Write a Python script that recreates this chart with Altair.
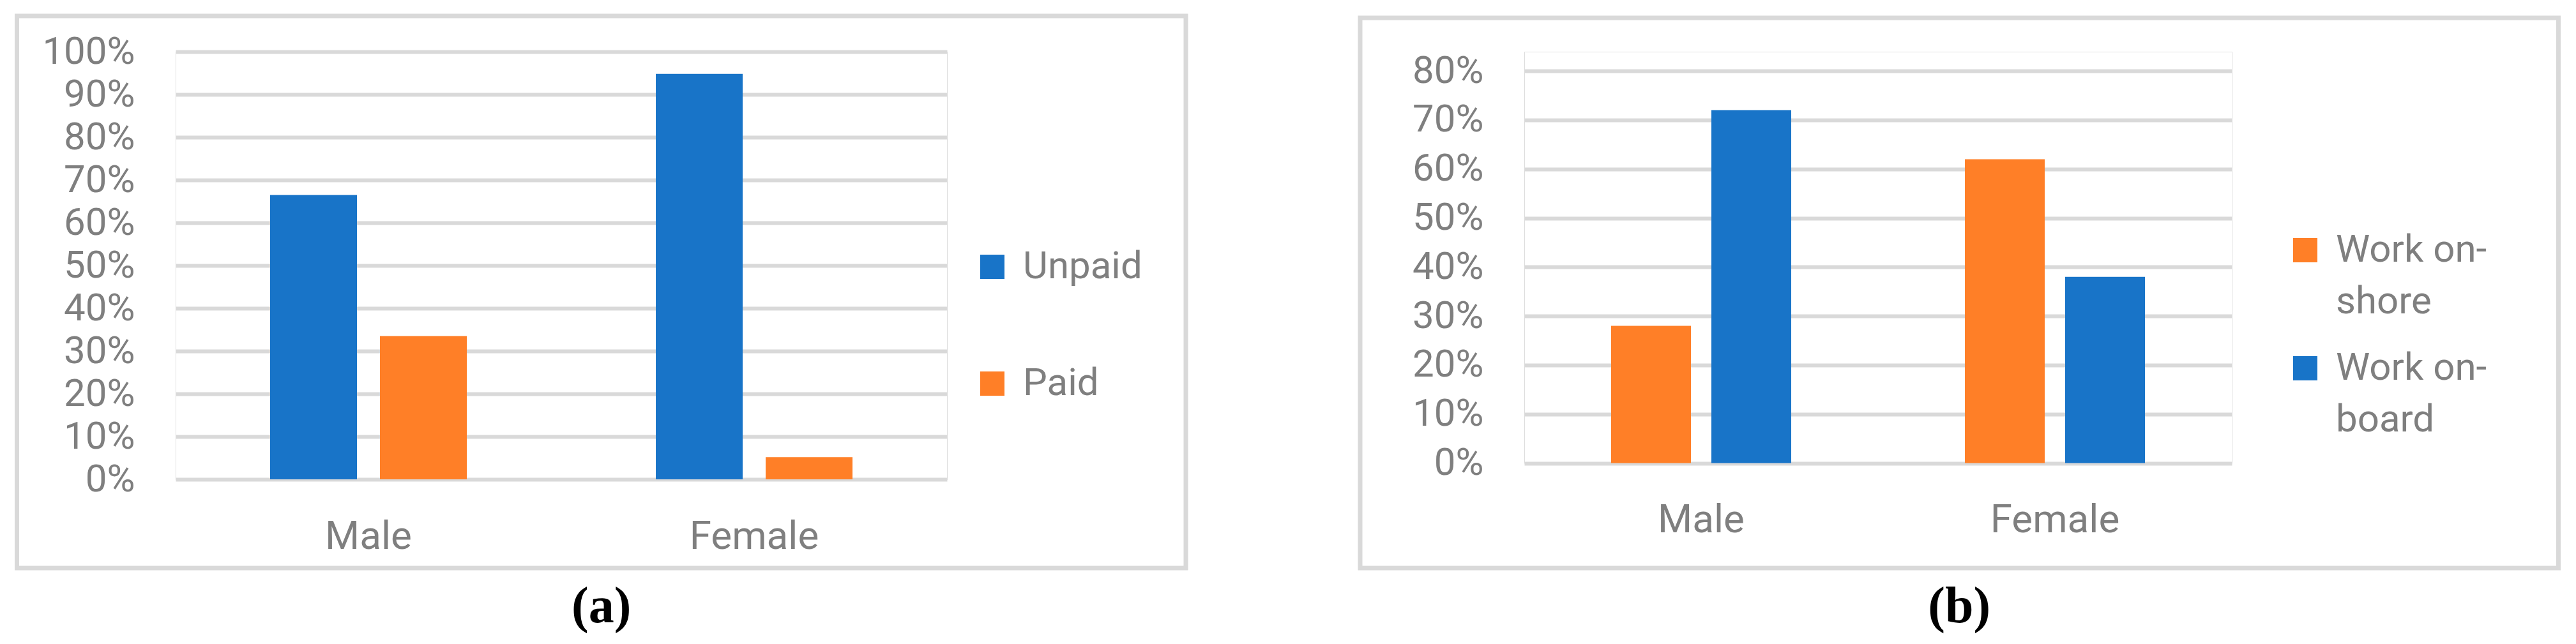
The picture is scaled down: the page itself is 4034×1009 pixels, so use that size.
import altair as alt
import pandas as pd

# ---------------- data ----------------
genders = ["Male", "Female"]

pay_series = ["Unpaid", "Paid"]
unpaid_share = [0.665, 0.948]
paid_share = [0.335, 0.052]

work_series = ["Work on-shore", "Work on-board"]
onshore_share = [0.28, 0.62]
onboard_share = [0.72, 0.38]

y_ticks_a = [0.0, 0.1, 0.2, 0.3, 0.4, 0.5, 0.6, 0.7, 0.8, 0.9, 1.0]
y_ticks_b = [0.0, 0.1, 0.2, 0.3, 0.4, 0.5, 0.6, 0.7, 0.8]

BLUE = "#1874C8"
ORANGE = "#FF7F27"
GRID = "#D9D9D9"
TXT = "#7F7F7F"
FONT = "Roboto"

df_a = pd.DataFrame(
    [{"gender": g, "series": pay_series[0], "value": v} for g, v in zip(genders, unpaid_share)]
    + [{"gender": g, "series": pay_series[1], "value": v} for g, v in zip(genders, paid_share)]
)
df_b = pd.DataFrame(
    [{"gender": g, "series": work_series[0], "value": v} for g, v in zip(genders, onshore_share)]
    + [{"gender": g, "series": work_series[1], "value": v} for g, v in zip(genders, onboard_share)]
)


def panel(df, series_order, colors, ymax, yticks, w, h, pin, pout,
          frame, leg_x, leg_y, row_pad, label_expr, title):
    bars = alt.Chart(df).mark_bar().encode(
        x=alt.X(
            "gender:N",
            sort=genders,
            scale=alt.Scale(paddingInner=0, paddingOuter=0),
            axis=alt.Axis(
                title=None, labelAngle=0, ticks=False, tickSize=0, domain=False,
                grid=False, labelFont=FONT, labelFontSize=62, labelColor=TXT,
                labelPadding=108, labelBaseline="alphabetic", labelLimit=1000,
            ),
        ),
        xOffset=alt.XOffset(
            "series:N", sort=series_order,
            scale=alt.Scale(paddingInner=pin, paddingOuter=pout),
        ),
        y=alt.Y(
            "value:Q",
            scale=alt.Scale(domain=[0, ymax], nice=False, zero=True),
            axis=alt.Axis(
                title=None, values=yticks, format=".0%", ticks=False, tickSize=0,
                domain=False, grid=True, gridColor=GRID, gridWidth=6,
                labelFont=FONT, labelFontSize=60, labelColor=TXT,
                labelPadding=64, labelOverlap=False, labelLimit=1000,
            ),
        ),
        color=alt.Color(
            "series:N",
            sort=series_order,
            scale=alt.Scale(domain=series_order, range=colors),
            legend=alt.Legend(
                title=None, orient="none", legendX=leg_x, legendY=leg_y,
                symbolType="square", symbolSize=1444, symbolStrokeWidth=0,
                labelFont=FONT, labelFontSize=60, labelColor=TXT,
                labelOffset=18, labelLimit=1000, rowPadding=row_pad, padding=0,
                labelExpr=label_expr,
            ),
        ),
    )
    fx1, fx2, fy1, fy2 = frame
    box = alt.Chart(alt.Data(values=[{"frame": 1}])).mark_rect(
        filled=False, stroke=GRID, strokeWidth=7
    ).encode(
        x=alt.value(fx1), x2=alt.value(fx2), y=alt.value(fy1), y2=alt.value(fy2)
    )
    return alt.layer(box, bars).properties(
        width=w,
        height=h,
        title=alt.TitleParams(
            title, orient="bottom", font="Liberation Serif", fontSize=80,
            fontWeight="bold", color="black", offset=18, anchor="middle",
            frame="bounds",
        ),
    )


pa = panel(
    df_a, pay_series, [BLUE, ORANGE], 1.0, y_ticks_a, 1208, 670, 0.2093, 0.8605,
    (-248.5, 1582, -56, 809), 1249, 307, 123, "datum.label", "(a)",
)
pb = panel(
    df_b, work_series, [ORANGE, BLUE], 0.8393, y_ticks_b, 1108, 644.5, 0.2038, 0.866,
    (-257, 1619.5, -53, 809), 1193, 281, 44,
    "[slice(datum.label, 0, 8), slice(datum.label, 8)]", "(b)",
)

chart = (
    alt.hconcat(pa, pb, spacing=265)
    .resolve_scale(color="independent", xOffset="independent", x="independent", y="independent")
    .resolve_legend(color="independent")
    .properties(padding={"left": 14, "top": 13, "right": 5, "bottom": 5}, background="white")
    .configure_view(stroke=None)
    .configure(style={"guide-label": {"lineHeight": 81}})
)

chart.save("out.html", embed_options={"renderer": "svg", "actions": False})
